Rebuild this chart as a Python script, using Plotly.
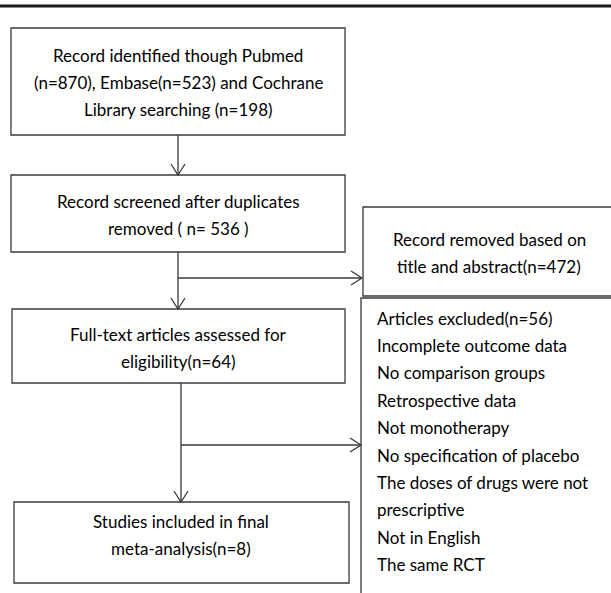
import plotly.graph_objects as go

# ---- content ----
box_identified = ["Record identified though Pubmed", "(n=870), Embase(n=523) and Cochrane", "Library searching (n=198)"]
box_screened = ["Record screened after duplicates", "removed ( n= 536 )"]
box_fulltext = ["Full-text articles assessed for", "eligibility(n=64)"]
box_included = ["Studies included in final", "meta-analysis(n=8)"]
box_removed = ["Record removed based on", "title and abstract(n=472)"]
box_excluded = ["Articles excluded(n=56)", "Incomplete outcome data", "No comparison groups",
                "Retrospective data", "Not monotherapy", "No specification of placebo",
                "The doses of drugs were not", "prescriptive", "Not in English", "The same RCT"]

W, H = 611, 593
LC = "#3a3a3a"
LW = 1.3
FONT = dict(family="Lato, Open Sans, sans-serif", size=17, color="#000000")
LINE_H = 27.4

fig = go.Figure()
shapes = []
annotations = []

def rect(x0, y0, x1, y1):
    shapes.append(dict(type="rect", xref="x", yref="y", x0=x0, y0=y0, x1=x1, y1=y1,
                       line=dict(color=LC, width=LW), fillcolor="rgba(0,0,0,0)"))

def line(x0, y0, x1, y1, w=LW, c=LC):
    shapes.append(dict(type="line", xref="x", yref="y", x0=x0, y0=y0, x1=x1, y1=y1,
                       line=dict(color=c, width=w)))

def head_down(x, y):
    shapes.append(dict(type="path", xref="x", yref="y",
                       path=f"M {x-7} {y-11} L {x} {y} L {x+7} {y-11}",
                       line=dict(color=LC, width=LW)))

def head_right(x, y):
    shapes.append(dict(type="path", xref="x", yref="y",
                       path=f"M {x-11} {y-7} L {x} {y} L {x-11} {y+7}",
                       line=dict(color=LC, width=LW)))

def text_block(lines, x, y_first, anchor="center"):
    for i, t in enumerate(lines):
        annotations.append(dict(x=x, y=y_first + i * LINE_H, xref="x", yref="y", text=t,
                                showarrow=False, xanchor=anchor, yanchor="middle", font=FONT))

# top rule
line(-5, 6, W + 10, 6, w=2.8, c="#1a1a1a")

# boxes
rect(11, 28, 345, 135)
rect(11, 175, 345, 252)
rect(12, 309, 345, 383)
rect(14, 502, 349, 583)
rect(363, 207, 640, 296)
rect(361, 298, 640, 640)

# connectors
line(178, 135, 178, 175); head_down(178, 175)
line(178, 252, 178, 309); head_down(178, 309)
line(178, 278, 362, 278); head_right(362, 278)
line(181, 383, 181, 502); head_down(181, 502)
line(181, 445, 361, 445); head_right(361, 445)

# texts
text_block(box_identified, 178, 55)
text_block(box_screened, 178, 201)
text_block(box_fulltext, 178, 334)
text_block(box_included, 181, 521)
text_block(box_removed, 489, 239)
text_block(box_excluded, 375, 318, anchor="left")

fig.update_layout(
    width=W, height=H, margin=dict(l=0, r=0, t=0, b=0),
    paper_bgcolor="white", plot_bgcolor="white",
    xaxis=dict(range=[0, W], visible=False, fixedrange=True),
    yaxis=dict(range=[H, 0], visible=False, fixedrange=True),
    shapes=shapes, annotations=annotations, showlegend=False,
)
fig.write_html("out.html", config={"displayModeBar": False},
               post_script="document.body.style.margin='0';document.body.style.overflow='hidden';")
